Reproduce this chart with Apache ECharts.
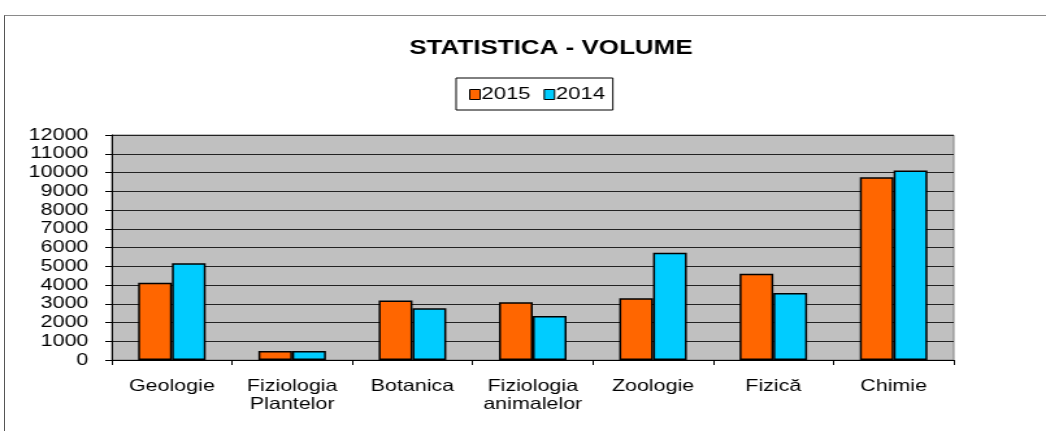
<!DOCTYPE html>
<html>
<head>
<meta charset="utf-8">
<script src="https://cdn.jsdelivr.net/npm/echarts@6/dist/echarts.min.js"></script>
<style>
  html, body { margin: 0; padding: 0; background: #fff; overflow: hidden; width: 1046px; height: 431px; }
  #frame { position: absolute; left: 4px; top: 15px; width: 1100px; height: 500px;
           border-top: 1px solid #8a8a8a; border-left: 1px solid #555; }
  /* the original picture is stretched sideways, so the chart is drawn narrower and widened */
  #chart { position: absolute; left: 0; top: 0; width: 805px; height: 431px;
           transform: scaleX(1.2994); transform-origin: 0 0; }
</style>
</head>
<body>
<div id="frame"></div>
<div id="chart"></div>
<script>
// date
var categories = ['Geologie', 'Fiziologia\nPlantelor', 'Botanica', 'Fiziologia\nanimalelor', 'Zoologie', 'Fizică', 'Chimie'];
var values2015 = [4120, 480, 3170, 3080, 3290, 4600, 9750];
var values2014 = [5160, 480, 2760, 2350, 5720, 3580, 10110];
var yTicks = { min: 0, max: 12000, interval: 1000 };

var font = 'Liberation Sans, Arial, sans-serif';
var chart = echarts.init(document.getElementById('chart'));
var option = {
  animation: false,
  title: {
    text: 'STATISTICA - VOLUME',
    left: 419,
    top: 33,
    textAlign: 'center',
    textStyle: { fontFamily: font, fontWeight: 'bold', fontSize: 20, color: '#000' }
  },
  legend: {
    data: ['2015', '2014'],
    left: 351,
    top: 78,
    padding: [8, 6, 7, 10],
    itemGap: 10,
    itemWidth: 8,
    itemHeight: 10,
    icon: 'rect',
    borderColor: '#000',
    borderWidth: 1,
    textStyle: { fontFamily: font, fontSize: 17, color: '#000', padding: [0, 0, 0, -4] },
    itemStyle: { borderColor: '#000', borderWidth: 1 }
  },
  grid: {
    left: 86,
    right: 71,
    top: 135,
    bottom: 71,
    show: true,
    backgroundColor: '#c0c0c0',
    borderColor: '#808080',
    borderWidth: 1
  },
  xAxis: {
    type: 'category',
    data: categories,
    axisLine: { lineStyle: { color: '#000', width: 1 } },
    axisTick: { show: true, length: 5, lineStyle: { color: '#000' } },
    axisLabel: {
      interval: 0,
      hideOverlap: false,
      margin: 17,
      fontFamily: font,
      fontSize: 16.5,
      lineHeight: 18,
      color: '#000'
    }
  },
  yAxis: {
    type: 'value',
    min: yTicks.min,
    max: yTicks.max,
    interval: yTicks.interval,
    axisLine: { show: true, lineStyle: { color: '#000' } },
    axisTick: { show: true, length: 5, lineStyle: { color: '#000' } },
    splitLine: { lineStyle: { color: '#222', width: 1 } },
    axisLabel: {
      margin: 18,
      fontFamily: font,
      fontSize: 16.5,
      color: '#000',
      formatter: function (v) { return String(v); }
    }
  },
  series: [
    {
      name: '2015',
      type: 'bar',
      data: values2015,
      barWidth: 26,
      barGap: '0%',
      itemStyle: { color: '#ff6600', borderColor: '#000', borderWidth: 1.5 }
    },
    {
      name: '2014',
      type: 'bar',
      data: values2014,
      barWidth: 26,
      barGap: '0%',
      itemStyle: { color: '#00ccff', borderColor: '#000', borderWidth: 1.5 }
    }
  ]
};
chart.setOption(option);
</script>
</body>
</html>
